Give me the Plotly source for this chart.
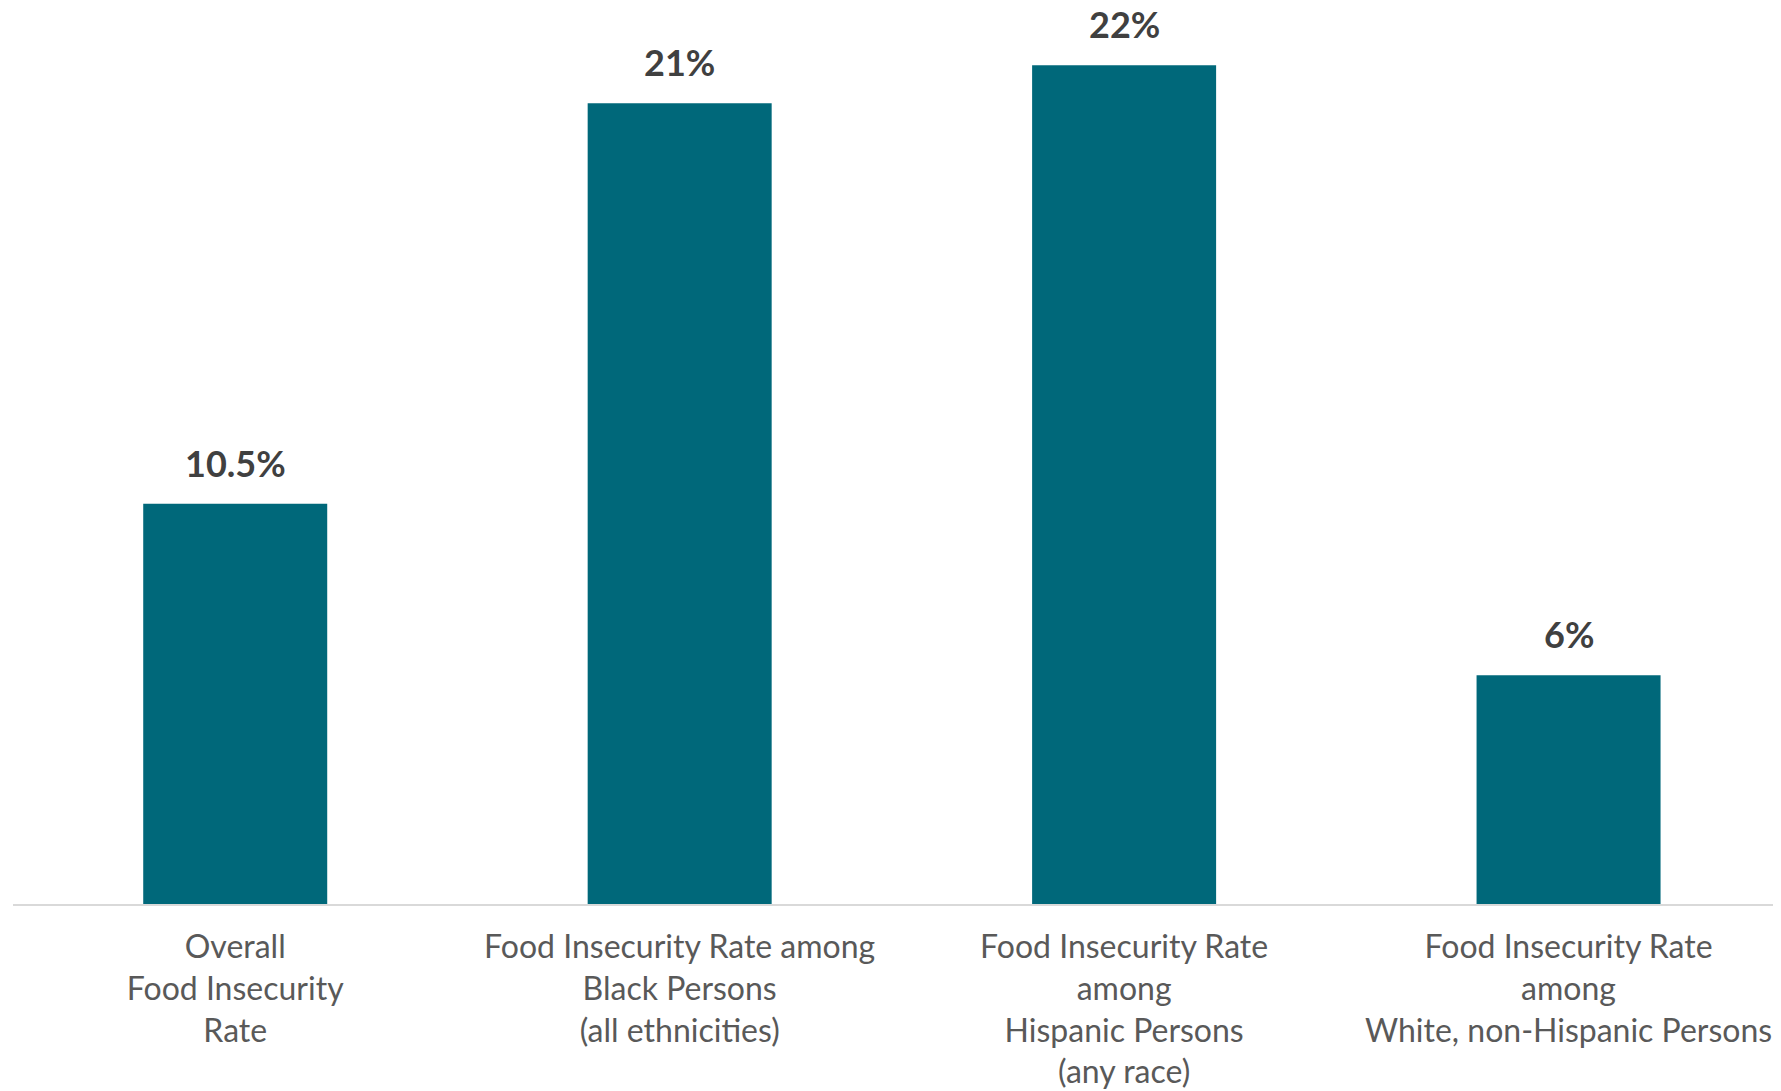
import plotly.graph_objects as go

categories = [
    "Overall<br>Food Insecurity<br>Rate",
    "Food Insecurity Rate among<br>Black Persons<br>(all ethnicities)",
    "Food Insecurity Rate<br>among<br>Hispanic Persons<br>(any race)",
    "Food Insecurity Rate<br>among<br>White, non-Hispanic Persons",
]
values = [10.5, 21, 22, 6]
value_labels = ["10.5%", "21%", "22%", "6%"]

BAR_COLOR = "#00687A"
LABEL_COLOR = "#404040"
TICK_COLOR = "#595959"

fig = go.Figure()
fig.add_trace(go.Bar(
    x=list(range(len(categories))),
    y=values,
    marker=dict(color=BAR_COLOR, line=dict(width=0)),
    width=0.414,
    hoverinfo="skip",
))

for i, (v, lab) in enumerate(zip(values, value_labels)):
    fig.add_annotation(
        x=i, y=v, text=lab, showarrow=False,
        yanchor="bottom", yshift=18, borderpad=0,
        font=dict(family="Lato", size=36, color=LABEL_COLOR, weight="bold"),
    )

fig.update_layout(
    width=1773, height=1083,
    margin=dict(l=5, r=0, t=0, b=187),
    paper_bgcolor="white", plot_bgcolor="white",
    showlegend=False,
    xaxis=dict(
        range=[-0.5, 3.478],
        tickmode="array",
        tickvals=list(range(len(categories))),
        ticktext=categories,
        showline=True, linecolor="#D9D9D9", linewidth=2,
        showgrid=False, zeroline=False,
        ticks="", ticklabelstandoff=14,
        tickfont=dict(family="Lato", size=32, color=TICK_COLOR),
    ),
    yaxis=dict(
        range=[0, 23.5],
        visible=False, showgrid=False, zeroline=False,
    ),
)

fig.write_html("out.html", config={"displayModeBar": False})
